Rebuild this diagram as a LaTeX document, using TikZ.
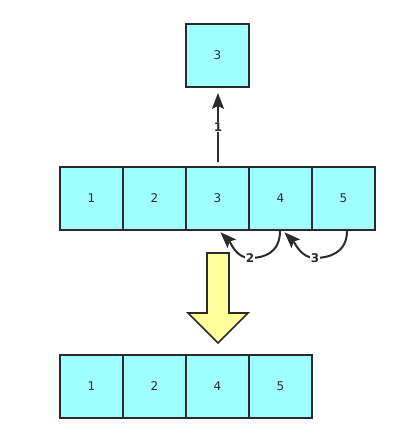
\documentclass[tikz,border=0pt]{standalone}
\usepackage{fontspec}
\setmainfont{DejaVu Sans}
\usetikzlibrary{arrows.meta}
\definecolor{cellfill}{HTML}{A0FFFF}
\definecolor{edgecol}{HTML}{2B2B2B}
\definecolor{arrowfill}{HTML}{FFFF99}
\begin{document}
\begin{tikzpicture}[x=1pt,y=1pt,
  cell/.style={draw=edgecol,fill=cellfill,line width=1.8pt,minimum size=63pt,inner sep=0pt,font=\fontsize{12}{14}\selectfont,text=edgecol},
  conn/.style={draw=edgecol,line width=2pt,-{Stealth[length=16pt,width=12pt,inset=3pt]}},
  lbl/.style={fill=white,inner sep=1pt,font=\bfseries\fontsize{12}{14}\selectfont,text=edgecol}]
\useasboundingbox (0,0) rectangle (409,441);
% top single box
\node[cell] (top) at (217.5,385.5) {3};
% middle row
\node[cell] (a1) at (91.5,242.5) {1};
\node[cell] (a2) at (154.5,242.5) {2};
\node[cell] (a3) at (217.5,242.5) {3};
\node[cell] (a4) at (280.5,242.5) {4};
\node[cell] (a5) at (343.5,242.5) {5};
% bottom row
\node[cell] (b1) at (91.5,54.5) {1};
\node[cell] (b2) at (154.5,54.5) {2};
\node[cell] (b3) at (217.5,54.5) {4};
\node[cell] (b4) at (280.5,54.5) {5};
% arrow 1
\draw[conn,shorten <=4pt,shorten >=5pt] ([xshift=0.5pt]a3.north) -- node[lbl]{1} ([xshift=0.5pt]top.south);
% curved arrows
\coordinate (l2) at (250,183);
\coordinate (l3) at (315,183);
\draw[conn,shorten >=2pt] ([xshift=-0.5pt]a4.south) .. controls +(0,-22) and +(14,0) .. (l2) .. controls +(-14,0) and +(12,-12) .. ([xshift=1.5pt]a3.south);
\draw[conn,shorten >=2pt] ([xshift=3.5pt]a5.south) .. controls +(0,-22) and +(14,0) .. (l3) .. controls +(-14,0) and +(12,-12) .. ([xshift=2.5pt]a4.south);
\node[lbl] at (l2) {2};
\node[lbl] at (l3) {3};
% big yellow arrow
\draw[draw=edgecol,fill=arrowfill,line width=1.6pt,line join=miter]
  (207,188) -- (229,188) -- (229,128) -- (248,128) -- (218,98) -- (188,128) -- (207,128) -- cycle;
\end{tikzpicture}
\end{document}
